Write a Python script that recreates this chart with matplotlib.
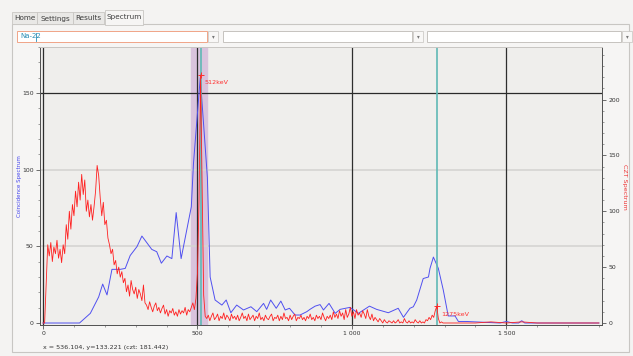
import numpy as np
import matplotlib.pyplot as plt
from matplotlib.patches import Rectangle
from matplotlib.ticker import MultipleLocator

# coincidence spectrum (blue, left axis)
blue_x = [0, 118, 153, 180, 193, 207, 223, 250, 266, 282, 304, 320, 352, 368, 383,
          401, 417, 431, 447, 480, 487, 509, 532, 541, 557, 579, 593, 608, 627, 649,
          673, 692, 714, 724, 737, 755, 770, 784, 798, 816, 832, 854, 865, 881, 897,
          908, 926, 946, 962, 994, 1021, 1057, 1080, 1118, 1150, 1167, 1188, 1199,
          1210, 1231, 1248, 1253, 1264, 1280, 1296, 1312, 1334, 1345, 1372, 1480,
          1500, 1520, 1540, 1550, 1560, 1800]
blue_y = [0, 0, 6.3, 17, 25.4, 18.3, 35, 35, 35.6, 44, 49.8, 56.7, 48, 46.5, 39,
          43.7, 42, 72, 42, 75.8, 104, 160, 95, 30, 15, 11.7, 15, 6.7, 11.7, 8.5,
          10.6, 7.4, 12.8, 8.9, 15, 9.6, 14.3, 8.5, 9.6, 5.2, 5.2, 7.4, 9, 11, 12,
          8.5, 12.8, 6.3, 8.9, 10.2, 6.3, 11, 8.9, 6.7, 9.6, 3.7, 9.6, 10.6,
          15, 29, 30, 35.6, 43, 35.6, 21.5, 4.6, 4.6, 1, 1, 0,
          1, 0, 0, 1.5, 0, 0]

# CZT spectrum (red, right axis), 5 keV bins from 0 to 1295
red_step = 5
red_y = [0, 0, 35, 70,
         60, 72, 55, 68, 62, 74, 58, 66, 54, 70,
         62, 88, 75, 100, 84, 106,
         96, 118, 104, 126, 110, 133, 115, 128,
         100, 110, 95, 106, 92, 104, 118,
         141, 132, 112, 96, 108,
         88, 92, 76, 70, 62, 66,
         52, 56, 44, 50, 41, 46,
         36, 40, 28, 34, 24, 38, 30, 26,
         32, 22, 30, 26, 20, 34, 18,
         16, 12, 19, 14, 10, 15, 18, 11, 14, 9, 13, 16,
         8, 12, 6, 11, 9, 13, 7, 10, 6, 12, 8, 11, 9, 14, 7, 12, 10,
         14, 18, 12, 22, 45, 110, 222, 120, 25, 6,
         4, 7, 2, 6, 9, 3, 5, 8, 2, 6, 4, 9, 3, 7, 5, 2, 8, 4, 6, 3,
         7, 2, 5, 9, 4, 6, 2, 8, 3, 5, 7, 2, 6, 4, 9, 3, 5, 2, 7, 4,
         3, 6, 8, 2, 5, 4, 7, 2, 6, 3, 9, 4, 5, 2, 7, 3, 6, 8, 2, 5,
         4, 7, 3, 5, 2, 6, 4, 8, 3, 5, 2, 7, 4, 6, 3, 9, 5, 2, 6, 4,
         7, 3, 10, 5, 8, 4, 11, 6, 9, 3, 12, 5, 8, 14, 6, 10, 4, 12, 7, 9,
         5, 11, 8, 4, 12, 6, 3, 8, 2, 5, 3, 1, 4, 2, 0, 3, 1, 0, 2, 1,
         0, 2, 0, 1, 3, 0, 1, 0, 4, 1, 0, 2, 0, 1, 0, 3, 1, 0, 2, 0,
         1, 0, 3, 2, 5, 3, 7, 5, 11, 15, 4, 0, 1, 0]
red_tail_x = [1300, 1350, 1400, 1450, 1500, 1550, 1600, 1650, 1700, 1750, 1800]
red_tail_y = [0, 0, 0, 1, 0, 1, 0, 0, 0, 0, 0]

peak_energy = [511, 1275]
peak_height = [222, 15]
peak_label = ['512keV', '1275keV']
roi = [480, 530]
xtick_vals = [0, 500, 1000, 1500]
xtick_labels = ['0', '500', '1 000', '1 500']

red_x = list(np.arange(len(red_y)) * red_step) + red_tail_x
red_all = red_y + red_tail_y

W, H = 633, 356
fig = plt.figure(figsize=(W / 100, H / 100), dpi=100, facecolor='#f4f3f2')

# window chrome drawn in pixel coordinates
bg = fig.add_axes([0, 0, 1, 1], zorder=-5)
bg.set_xlim(0, W)
bg.set_ylim(H, 0)
bg.axis('off')
bg.add_patch(Rectangle((12, 24), 617, 328, fc='#f6f5f4', ec='#c8c6c3', lw=0.8))
tabs = [('Home', 12, 25), ('Settings', 37, 36), ('Results', 73, 31)]
for name, x0, w in tabs:
    bg.add_patch(Rectangle((x0, 12), w, 12, fc='#e9e8e6', ec='#c8c6c3', lw=0.6))
    bg.text(x0 + w / 2, 18.5, name, fontsize=5.2, ha='center', va='center', color='#3c3c3c')
bg.add_patch(Rectangle((105, 10), 38, 15, fc='#f6f5f4', ec='#c8c6c3', lw=0.6))
bg.text(124, 17.5, 'Spectrum', fontsize=5.2, ha='center', va='center', color='#3c3c3c')

combos = [(17, 207, '#f0a487'), (223, 412, '#c6c3bf'), (427, 621, '#c6c3bf')]
for x0, x1, ec in combos:
    bg.add_patch(Rectangle((x0, 31), x1 - x0, 11, fc='white', ec=ec, lw=0.7))
    bg.add_patch(Rectangle((x1 + 1, 31), 10, 11, fc='#f8f7f6', ec='#c6c3bf', lw=0.5))
    bg.text(x1 + 6, 37, '▾', fontsize=4, ha='center', va='center', color='#777777')
bg.text(20, 36.5, 'Na-22', fontsize=5, ha='left', va='center', color='#2a8db5')
bg.plot([36, 36], [32.5, 40.5], color='#2a8db5', lw=0.6)

bg.text(20, 186, 'Coincidence Spectrum', fontsize=4, rotation=90,
        ha='center', va='center', color='#4444ee')
bg.text(625, 187, 'CZT Spectrum', fontsize=4.6, rotation=270,
        ha='center', va='center', color='#ee3333')
bg.text(43, 347, 'x = 536.104, y=133.221 (czt: 181.442)', fontsize=4.6,
        ha='left', va='center', color='#333333')

# plot area
ax = fig.add_axes([40 / W, 1 - 325 / H, 562 / W, 278 / H])
ax.set_facecolor('#efeeec')
ax.set_xlim(-10, 1810)
ax.set_ylim(-1.3, 180)

ax.axvspan(roi[0], roi[1], color='#d9c3dd', zorder=1)
for v in [50, 100]:
    ax.axhline(v, color='#d5d4d2', lw=1.2, zorder=1)
ax.axhline(150, color='#2a2a2a', lw=0.9, zorder=2)
for v in xtick_vals:
    ax.axvline(v, color='#2e2e2e', lw=0.9, zorder=2)
for e in peak_energy:
    ax.axvline(e, color='#5fb9b5', lw=1.2, zorder=5)

ax.plot(blue_x, blue_y, color='#5050f0', lw=0.7, zorder=3)

ax2 = ax.twinx()
ax2.set_ylim(-1.8, 247)
ax2.plot(red_x, red_all, color='#ff2020', lw=0.6, zorder=4)
ax2.plot(peak_energy, peak_height, '+', color='#ff3030', ms=5, mew=0.7)
for e, h, lab in zip(peak_energy, peak_height, peak_label):
    ax2.annotate(lab, (e, h), xytext=(4, -8), textcoords='offset pixels',
                 fontsize=4.6, color='#ff3030', ha='left', va='center')

ax.set_xticks(xtick_vals)
ax.set_xticklabels(xtick_labels)
ax.xaxis.set_minor_locator(MultipleLocator(100))
ax.set_yticks([0, 50, 100, 150])
ax.yaxis.set_minor_locator(MultipleLocator(10))
ax2.set_yticks([0, 50, 100, 150, 200])
ax2.yaxis.set_minor_locator(MultipleLocator(10))

for a in (ax, ax2):
    a.tick_params(which='major', length=3, width=0.6, color='#555555',
                  labelsize=4.4, labelcolor='#333333', pad=1.5)
    a.tick_params(which='minor', length=1.6, width=0.5, color='#777777')
    for s in a.spines.values():
        s.set_color('#555555')
        s.set_linewidth(0.7)
ax.spines['top'].set_color('#c8c6c3')
ax2.spines['top'].set_color('#c8c6c3')

fig.savefig('out.png', dpi=100, facecolor=fig.get_facecolor())
